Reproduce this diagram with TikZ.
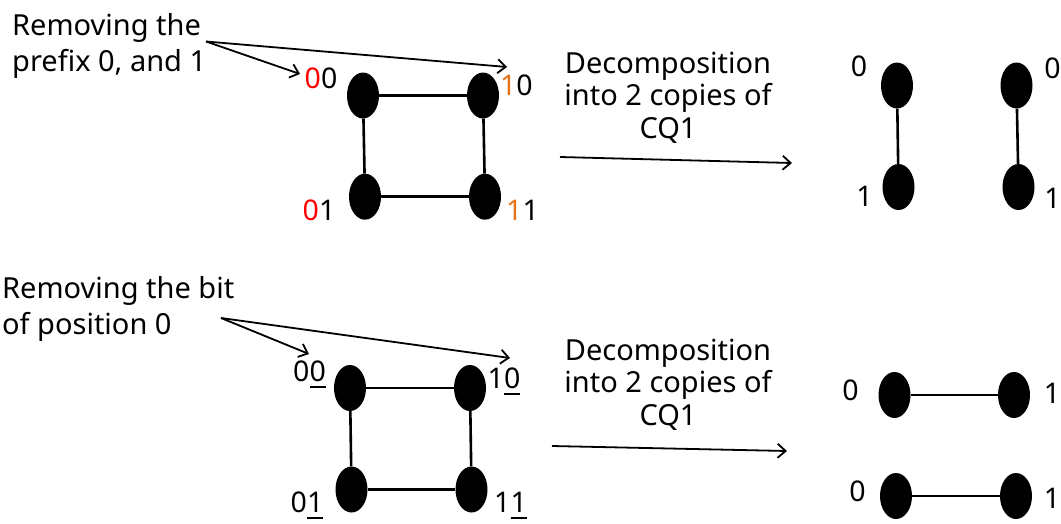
\documentclass[tikz,border=0pt]{standalone}
\usepackage{fontspec}
\setmainfont{Noto Sans}
\usetikzlibrary{shapes.geometric,arrows.meta}
\definecolor{bitred}{RGB}{255,0,0}
\definecolor{bitorange}{RGB}{230,115,25}
% underline set a little below the baseline
\newcommand{\bitmark}[1]{\setbox0\hbox{#1}\rlap{\rule[-7pt]{\wd0}{1.8pt}}\box0}
\begin{document}
\begin{tikzpicture}[x=1pt,y=-1pt,
  vertex/.style={ellipse,fill=black,minimum width=32pt,minimum height=46pt,inner sep=0pt},
  edge/.style={line width=2.6pt},
  lbl/.style={anchor=base,inner sep=0pt,font=\fontsize{28.5}{32}\selectfont},
  note/.style={inner sep=0pt,font=\fontsize{29}{36}\selectfont,align=left,anchor=base west},
  caption/.style={inner sep=0pt,font=\fontsize{29}{32.5}\selectfont,align=center,anchor=base},
  pointer/.style={line width=1.8pt,-{Straight Barb[length=8pt,width=14pt]}},
]
\path[use as bounding box] (0,0) rectangle (1061,523);

% ---------- upper row: split by prefix ----------
\node[note] (notetop) at (12,71) {Removing the\\prefix 0, and 1};
\coordinate (ptop) at (206,41.5);
\coordinate (ptopa) at (300,74);
\coordinate (ptopb) at (507,67);
\draw[pointer] (ptop) -- (ptopa);
\draw[pointer] (ptop) -- (ptopb);

\node[vertex] (t00) at (363,95.5) {};
\node[vertex] (t10) at (483,95.5) {};
\node[vertex] (t01) at (365,196.7) {};
\node[vertex] (t11) at (485,196.7) {};
\draw[edge] (t00) -- (t10);
\draw[edge] (t01) -- (t11);
\draw[edge] (t00) -- (t01);
\draw[edge] (t10) -- (t11);
\node[lbl] (lt00) at (321,88) {{\color{bitred}0}0};
\node[lbl] (lt10) at (516.4,95) {{\color{bitorange}1}0};
\node[lbl] (lt01) at (319,220) {{\color{bitred}0}1};
\node[lbl] (lt11) at (522.5,220) {{\color{bitorange}1}1};

\node[caption] (captop) at (668,138) {Decomposition\\into 2 copies of\\CQ1};
\coordinate (atop) at (560,157);
\coordinate (btop) at (792,163);
\draw[pointer] (atop) -- (btop);

\node[vertex] (ra0) at (897,85.5) {};
\node[vertex] (ra1) at (898.5,187) {};
\node[vertex] (rb0) at (1016.5,85.5) {};
\node[vertex] (rb1) at (1018.5,187) {};
\draw[edge] (ra0) -- (ra1);
\draw[edge] (rb0) -- (rb1);
\node[lbl] (lra0) at (859,76.7) {0};
\node[lbl] (lra1) at (864.5,206.7) {1};
\node[lbl] (lrb0) at (1052.5,78.3) {0};
\node[lbl] (lrb1) at (1052.5,208.3) {1};

% ---------- lower row: split by bit position ----------
\node[note] (notebot) at (2,334) {Removing the bit\\of position 0};
\coordinate (pbot) at (221,318);
\coordinate (pbota) at (309,354);
\coordinate (pbotb) at (510,358);
\draw[pointer] (pbot) -- (pbota);
\draw[pointer] (pbot) -- (pbotb);

\node[vertex] (b00) at (350,388) {};
\node[vertex] (b10) at (470,388) {};
\node[vertex] (b01) at (351.5,489.5) {};
\node[vertex] (b11) at (471.5,489.5) {};
\draw[edge] (b00) -- (b10);
\draw[edge] (b01) -- (b11);
\draw[edge] (b00) -- (b01);
\draw[edge] (b10) -- (b11);
\node[lbl] (lb00) at (309.5,381) {0\bitmark{0}};
\node[lbl] (lb10) at (504,388) {1\bitmark{0}};
\node[lbl] (lb01) at (307,512) {0\bitmark{1}};
\node[lbl] (lb11) at (510.5,512) {1\bitmark{1}};

\node[caption] (capbot) at (668,425) {Decomposition\\into 2 copies of\\CQ1};
\coordinate (abot) at (552,446);
\coordinate (bbot) at (787,451);
\draw[pointer] (abot) -- (bbot);

\node[vertex] (sa0) at (894.5,395) {};
\node[vertex] (sa1) at (1014,395) {};
\node[vertex] (sb0) at (896,496) {};
\node[vertex] (sb1) at (1016,496) {};
\draw[edge] (sa0) -- (sa1);
\draw[edge] (sb0) -- (sb1);
\node[lbl] (lsa0) at (850.5,400) {0};
\node[lbl] (lsa1) at (1052,403) {1};
\node[lbl] (lsb0) at (857.5,501.7) {0};
\node[lbl] (lsb1) at (1052,508) {1};
\end{tikzpicture}
\end{document}
